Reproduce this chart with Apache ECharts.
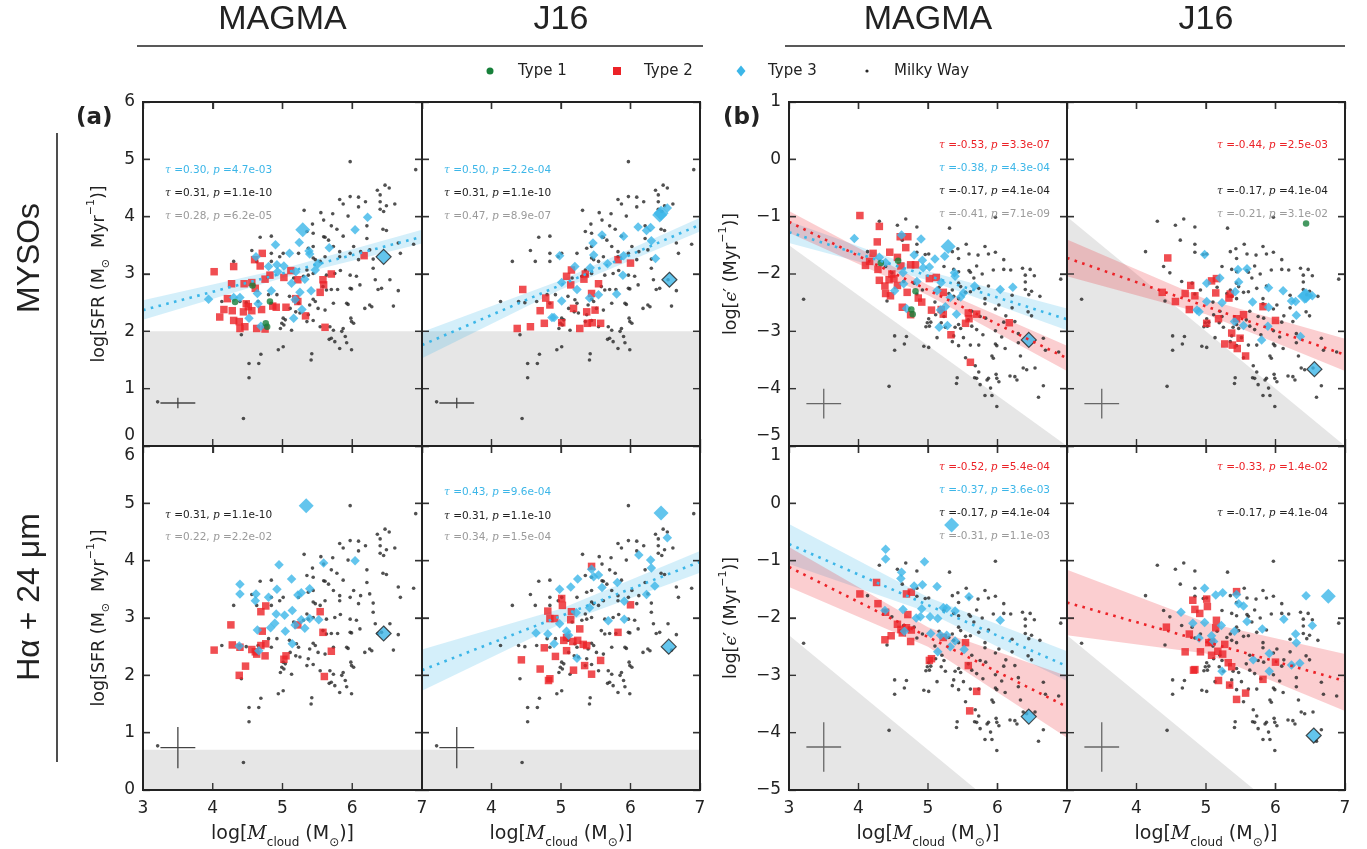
<!DOCTYPE html>
<html><head><meta charset="utf-8">
<script src="https://cdn.jsdelivr.net/npm/echarts@6/dist/echarts.min.js"></script>
<style>html,body{margin:0;padding:0;background:#fff}#c{width:1367px;height:849px}</style>
</head><body><div id="c"></div>
<script>
// ---------------- DATA ----------------
// Milky Way clouds: [log Mcloud, log SFR]
const milkyWay = [[5.97,4.96],[6.91,4.82],[6.47,4.55],[6.53,4.50],[6.36,4.46],[6.40,4.38],[5.82,4.30],[5.97,4.35],[6.09,4.34],[5.87,4.22],[6.19,4.26],[6.40,4.26],[6.49,4.19],[6.61,4.22],[6.09,4.17],[6.40,4.13],[6.45,4.09],[5.31,4.11],[5.55,4.07],[5.72,4.05],[5.94,4.01],[5.59,3.94],[5.70,3.84],[5.43,3.87],[6.21,3.84],[6.44,3.78],[6.49,3.76],[5.78,3.78],[5.87,3.66],[5.59,3.65],[5.44,3.71],[5.35,3.74],[4.68,3.64],[4.84,3.66],[6.02,3.48],[6.21,3.62],[5.66,3.59],[5.61,3.64],[6.88,3.52],[5.73,3.48],[5.82,3.39],[5.97,3.36],[6.12,3.39],[6.66,3.54],[6.25,3.42],[5.44,3.48],[5.37,3.45],[5.23,3.36],[5.01,3.36],[4.84,3.36],[4.96,3.30],[4.56,3.41],[5.61,3.30],[5.82,3.30],[6.30,3.26],[6.09,3.25],[5.44,3.28],[4.30,3.22],[4.63,3.22],[4.84,3.22],[5.47,3.25],[5.54,3.22],[5.83,3.06],[5.75,3.01],[5.35,3.07],[5.44,3.01],[5.37,2.98],[5.63,2.98],[5.30,2.96],[5.16,2.93],[5.97,2.98],[6.06,2.96],[6.30,3.10],[6.33,2.90],[6.54,2.90],[6.11,2.81],[6.42,2.75],[5.97,2.75],[5.99,2.74],[6.37,2.73],[6.66,2.71],[5.58,2.78],[5.63,2.72],[5.70,2.73],[5.79,2.73],[4.80,2.64],[4.92,2.64],[5.10,2.61],[5.20,2.55],[5.44,2.56],[5.23,2.49],[5.39,2.46],[5.47,2.52],[5.51,2.40],[5.61,2.37],[5.73,2.49],[5.92,2.49],[5.94,2.47],[6.25,2.46],[6.28,2.43],[6.18,2.40],[6.59,2.44],[4.13,2.52],[4.39,2.52],[4.48,2.50],[4.65,2.52],[4.84,2.49],[5.11,2.40],[5.19,2.34],[5.25,2.32],[5.37,2.29],[5.01,2.23],[5.04,2.20],[4.99,2.14],[5.02,2.11],[4.97,2.05],[5.13,2.02],[5.35,2.17],[5.44,2.19],[5.54,2.08],[5.68,2.08],[5.73,2.02],[5.87,2.05],[5.85,2.00],[5.98,2.23],[5.99,2.17],[6.02,2.14],[5.67,1.86],[5.70,1.88],[5.75,1.82],[5.82,1.70],[5.90,1.91],[5.92,1.80],[5.99,1.68],[4.41,1.94],[4.94,1.68],[5.01,1.73],[4.69,1.60],[4.52,1.44],[4.66,1.44],[5.42,1.61],[5.41,1.50],[4.52,1.19],[3.21,0.77],[4.44,0.48],[6.69,3.36]];

// MYSO-based SFR, MAGMA masses: [log Mcloud, log SFR]
const mysoMagmaT1 = [[4.32,2.51],[4.57,2.80],[4.82,2.52],[4.76,2.14],[4.78,2.08]];
const mysoMagmaT2 = [[4.02,3.04],[4.30,3.13],[4.71,3.36],[4.60,3.25],[4.68,3.14],[4.82,2.98],[4.75,2.91],[5.02,2.94],[5.12,3.06],[5.22,2.90],[5.70,3.00],[5.58,2.90],[5.59,2.81],[5.54,2.68],[4.27,2.83],[4.45,2.83],[4.56,2.85],[4.61,2.75],[4.21,2.57],[4.48,2.48],[4.51,2.43],[4.44,2.34],[4.56,2.36],[4.16,2.38],[4.28,2.36],[4.70,2.38],[4.86,2.44],[4.91,2.42],[5.05,2.42],[5.19,2.57],[5.22,2.52],[4.10,2.25],[4.30,2.19],[4.38,2.17],[4.46,2.08],[4.39,2.05],[4.63,2.05],[4.75,2.04],[5.33,2.27],[5.61,2.07],[6.17,3.32]];
const mysoMagmaT3 = [[3.94,2.56],[4.30,2.59],[4.39,2.59],[4.52,2.23],[4.64,2.66],[4.65,2.48],[4.69,2.09],[4.80,3.13],[4.84,2.71],[4.90,3.51],[4.92,3.16],[4.93,3.04],[5.02,3.14],[5.10,3.36],[5.13,2.84],[5.16,2.23],[5.18,2.55],[5.19,3.04],[5.24,3.55],[5.25,2.68],[5.28,2.38],[5.32,2.91],[5.38,3.40],[5.39,3.35],[5.41,2.71],[5.47,3.07],[5.51,3.18],[5.67,3.46],[6.04,3.77],[6.22,3.99],[4.62,3.30]];
const mysoMagmaT3Big = [[5.29,3.77]];
const mysoMagmaT3Out = [[6.45,3.30]];

// MYSO-based SFR, J16 masses
const mysoJ16T2 = [[4.37,2.05],[4.56,2.08],[4.45,2.73],[4.70,2.36],[4.76,2.14],[4.78,2.58],[4.84,2.46],[5.01,2.15],[5.08,2.96],[5.14,2.81],[5.15,3.07],[5.18,2.40],[5.27,2.05],[5.33,2.91],[5.35,3.00],[5.37,2.34],[5.38,2.14],[5.44,2.66],[5.45,2.15],[5.49,2.37],[5.54,2.83],[5.57,2.14],[5.82,3.25],[6.00,3.19]];
const mysoJ16T3 = [[4.87,2.24],[4.90,2.24],[4.98,3.32],[5.01,2.85],[5.01,2.53],[5.20,3.13],[5.23,2.73],[5.41,2.58],[5.42,3.11],[5.46,3.54],[5.47,3.33],[5.54,2.64],[5.59,3.68],[5.67,3.18],[5.80,2.65],[5.89,2.98],[5.90,3.32],[5.90,3.66],[6.11,3.82],[6.23,3.76],[6.29,3.81],[6.30,3.58],[6.36,3.27],[6.53,4.15]];
const mysoJ16T3Big = [[6.44,4.06],[6.42,4.03]];
const mysoJ16T3Out = [[6.56,2.90]];

// Halpha + 24um SFR, MAGMA masses
const haMagmaT2 = [[4.02,2.44],[4.26,2.88],[4.28,2.53],[4.39,2.49],[4.38,2.00],[4.47,2.16],[4.56,2.45],[4.61,2.41],[4.63,2.37],[4.69,2.52],[4.69,3.11],[4.71,2.77],[4.75,2.34],[4.76,2.55],[4.76,3.21],[5.02,2.28],[5.05,2.34],[5.22,2.88],[5.54,3.11],[5.58,2.75],[5.60,1.98],[5.70,2.42]];
const haMagmaT3 = [[4.39,3.59],[4.39,3.42],[4.38,2.51],[4.61,3.30],[4.62,3.42],[4.64,2.79],[4.66,2.43],[4.80,3.36],[4.83,2.83],[4.89,2.91],[4.91,3.07],[4.92,3.50],[4.95,3.93],[5.03,3.05],[5.04,2.77],[5.13,3.68],[5.14,3.13],[5.14,2.55],[5.18,2.88],[5.22,3.40],[5.27,3.44],[5.27,2.97],[5.32,2.82],[5.39,3.51],[5.39,2.99],[5.52,2.97],[5.59,3.96],[6.04,4.00]];
const haMagmaT3Big = [[5.34,4.96]];
const haMagmaT3Out = [[6.45,2.73]];

// Halpha + 24um SFR, J16 masses
const haJ16T2 = [[4.43,2.27],[4.70,2.11],[4.82,1.91],[4.84,1.94],[4.76,2.48],[4.81,3.12],[4.84,2.99],[4.91,2.99],[4.92,2.33],[5.01,3.34],[5.02,3.22],[5.04,2.61],[5.08,2.66],[5.08,2.43],[5.14,2.97],[5.15,3.11],[5.17,2.59],[5.18,2.09],[5.24,2.61],[5.27,2.81],[5.32,2.54],[5.34,2.17],[5.37,2.52],[5.44,3.90],[5.44,2.02],[5.57,2.26],[5.82,2.75],[6.00,3.23]];
const haJ16T3 = [[4.64,2.74],[4.81,2.72],[4.90,2.55],[4.98,3.50],[4.98,2.90],[5.08,2.77],[5.11,2.70],[5.14,3.54],[5.22,3.09],[5.23,2.30],[5.24,3.68],[5.41,3.18],[5.44,3.85],[5.47,3.72],[5.54,3.75],[5.59,3.53],[5.68,2.95],[5.81,3.62],[5.91,3.29],[5.91,2.98],[6.12,4.10],[6.23,3.41],[6.29,4.01],[6.30,3.87],[6.35,3.56],[6.53,4.40]];
const haJ16T3Big = [[6.44,4.83]];
const haJ16T3Out = [[6.55,2.50]];

// points only present in the epsilon panels: [log Mcloud, log eps']
const epsMysoJ16T1Extra = [[6.44,-1.12]];
const epsHaJ16T3BigExtra = [[6.76,-1.62]];

// observational limits (grey shading)
const limitSfrMyso = [[3,2],[7,2]];
const limitSfrHa = [[3,0.7],[7,0.7]];
const limitEpsMysoMagma = [[3,-1.5],[7,-5]];
const limitEpsMysoJ16 = [[3,-1],[7,-5]];
const limitEpsHa = [[3,-2.3],[5.7,-5],[7,-5]];

// fits: line [x,y], band [x, lower, upper]
const fitMysoMagmaT3Line = [[3,2.37],[7,3.65]];
const fitMysoMagmaT3Band = [[3,2.20,2.54],[5,2.93,3.09],[7,3.53,3.77]];
const fitMysoJ16T3Line = [[3,1.76],[7,3.86]];
const fitMysoJ16T3Band = [[3,1.53,1.99],[5,2.73,2.89],[7,3.74,3.98]];
const fitHaJ16T3Line = [[3,2.09],[7,3.98]];
const fitHaJ16T3Band = [[3,1.73,2.45],[5,2.90,3.16],[7,3.79,4.17]];
const fitEpsMysoMagmaT2Line = [[3,-1.09],[7,-3.47]];
const fitEpsMysoMagmaT2Band = [[3,-1.28,-0.90],[5,-2.37,-2.19],[7,-3.69,-3.25]];
const fitEpsMysoMagmaT3Line = [[3,-1.27],[7,-2.79]];
const fitEpsMysoMagmaT3Band = [[3,-1.46,-1.08],[5,-2.11,-1.95],[7,-2.98,-2.60]];
const fitEpsMysoJ16T2Line = [[3,-1.72],[7,-3.41]];
const fitEpsMysoJ16T2Band = [[3,-2.04,-1.40],[5,-2.70,-2.44],[7,-3.69,-3.13]];
const fitEpsHaMagmaT3Line = [[3,-0.71],[7,-2.84]];
const fitEpsHaMagmaT3Band = [[3,-1.06,-0.36],[5,-1.90,-1.64],[7,-3.10,-2.58]];
const fitEpsHaMagmaT2Line = [[3,-1.11],[7,-3.55]];
const fitEpsHaMagmaT2Band = [[3,-1.46,-0.76],[5,-2.50,-2.16],[7,-4.09,-3.01]];
const fitEpsHaJ16T2Line = [[3,-1.73],[7,-3.10]];
const fitEpsHaJ16T2Band = [[3,-2.30,-1.16],[5,-2.62,-2.08],[7,-3.62,-2.63]];

// typical error bars: [x, y, half-width x, half-width y]
const errSfrMyso = [3.5,0.75,0.25,0.09];
const errSfrHa = [3.5,0.74,0.25,0.36];
const errEpsMyso = [3.5,-4.26,0.25,0.26];
const errEpsHa = [3.5,-4.25,0.25,0.43];

// tick positions
const xTickValues = [4,5,6];
const sfrTickValues = [1,2,3,4,5];
const epsTickValues = [-4,-3,-2,-1,0];

// Kendall tau annotations: [tau, p, colour key]
const notesA1 = [['0.30','4.7e-03','blue'],['0.31','1.1e-10','black'],['0.28','6.2e-05','gray']];
const notesA2 = [['0.50','2.2e-04','blue'],['0.31','1.1e-10','black'],['0.47','8.9e-07','gray']];
const notesA3 = [['0.31','1.1e-10','black'],['0.22','2.2e-02','gray']];
const notesA4 = [['0.43','9.6e-04','blue'],['0.31','1.1e-10','black'],['0.34','1.5e-04','gray']];
const notesB1 = [['-0.53','3.3e-07','red'],['-0.38','4.3e-04','blue'],['-0.17','4.1e-04','black'],['-0.41','7.1e-09','gray']];
const notesB2 = [['-0.44','2.5e-03','red'],['-0.17','4.1e-04','black'],['-0.21','3.1e-02','gray']];
const notesB3 = [['-0.52','5.4e-04','red'],['-0.37','3.6e-03','blue'],['-0.17','4.1e-04','black'],['-0.31','1.1e-03','gray']];
const notesB4 = [['-0.33','1.4e-02','red'],['-0.17','4.1e-04','black']];

const headers = ['MAGMA','J16','MAGMA','J16'];
const legendLabels = ['Type 1','Type 2','Type 3','Milky Way'];
const rowLabels = ['MYSOs','H\u03b1 + 24 \u03bcm'];

// ---------------- helpers ----------------
// log eps' = log(SFR / Mcloud) : same clouds shown on the efficiency axis
const toEps = pts => pts.map(p => [p[0], Math.round((p[1] - p[0]) * 100) / 100]);

const COL = {blue:'#3cb6e8', red:'#ec2227', green:'#17803a', black:'#222222', gray:'#9a9a9a', mw:'#262626'};
const BAND = {blue:'rgba(60,182,232,0.22)', red:'rgba(236,34,39,0.22)'};
const FONT = 'DejaVu Sans';

const panels = [
  {rect:[143,102,279,344], row:0, col:0, eps:false, limit:limitSfrMyso, err:errSfrMyso, mw:milkyWay,
   t1:mysoMagmaT1, t2:mysoMagmaT2, t3:mysoMagmaT3, big:mysoMagmaT3Big, out:mysoMagmaT3Out,
   fits:[[fitMysoMagmaT3Line,fitMysoMagmaT3Band,'blue']], notes:notesA1, noteY:[68,91,114]},
  {rect:[422,102,278,344], row:0, col:1, eps:false, limit:limitSfrMyso, err:errSfrMyso, mw:milkyWay,
   t1:[], t2:mysoJ16T2, t3:mysoJ16T3, big:mysoJ16T3Big, out:mysoJ16T3Out,
   fits:[[fitMysoJ16T3Line,fitMysoJ16T3Band,'blue']], notes:notesA2, noteY:[68,91,114]},
  {rect:[143,446,279,344], row:1, col:0, eps:false, limit:limitSfrHa, err:errSfrHa, mw:milkyWay,
   t1:[], t2:haMagmaT2, t3:haMagmaT3, big:haMagmaT3Big, out:haMagmaT3Out,
   fits:[], notes:notesA3, noteY:[69,91]},
  {rect:[422,446,278,344], row:1, col:1, eps:false, limit:limitSfrHa, err:errSfrHa, mw:milkyWay,
   t1:[], t2:haJ16T2, t3:haJ16T3, big:haJ16T3Big, out:haJ16T3Out,
   fits:[[fitHaJ16T3Line,fitHaJ16T3Band,'blue']], notes:notesA4, noteY:[46,70,91]},
  {rect:[789,102,278,344], row:0, col:0, eps:true, limit:limitEpsMysoMagma, err:errEpsMyso, mw:toEps(milkyWay),
   t1:toEps(mysoMagmaT1), t2:toEps(mysoMagmaT2), t3:toEps(mysoMagmaT3), big:toEps(mysoMagmaT3Big), out:toEps(mysoMagmaT3Out),
   fits:[[fitEpsMysoMagmaT3Line,fitEpsMysoMagmaT3Band,'blue'],[fitEpsMysoMagmaT2Line,fitEpsMysoMagmaT2Band,'red']], notes:notesB1, noteY:[43,66,89,112]},
  {rect:[1067,102,278,344], row:0, col:1, eps:true, limit:limitEpsMysoJ16, err:errEpsMyso, mw:toEps(milkyWay),
   t1:epsMysoJ16T1Extra, t2:toEps(mysoJ16T2), t3:toEps(mysoJ16T3), big:toEps(mysoJ16T3Big), out:toEps(mysoJ16T3Out),
   fits:[[fitEpsMysoJ16T2Line,fitEpsMysoJ16T2Band,'red']], notes:notesB2, noteY:[43,89,112]},
  {rect:[789,446,278,344], row:1, col:0, eps:true, limit:limitEpsHa, err:errEpsHa, mw:toEps(milkyWay),
   t1:[], t2:toEps(haMagmaT2), t3:toEps(haMagmaT3), big:toEps(haMagmaT3Big), out:toEps(haMagmaT3Out),
   fits:[[fitEpsHaMagmaT3Line,fitEpsHaMagmaT3Band,'blue'],[fitEpsHaMagmaT2Line,fitEpsHaMagmaT2Band,'red']], notes:notesB3, noteY:[21,44,67,90]},
  {rect:[1067,446,278,344], row:1, col:1, eps:true, limit:limitEpsHa, err:errEpsHa, mw:toEps(milkyWay),
   t1:[], t2:toEps(haJ16T2), t3:toEps(haJ16T3.concat(haJ16T3Big)), big:epsHaJ16T3BigExtra, out:toEps(haJ16T3Out),
   fits:[[fitEpsHaJ16T2Line,fitEpsHaJ16T2Band,'red']], notes:notesB4, noteY:[21,67]}
];

const xNameRich = {
  n:{fontFamily:FONT, fontSize:19, color:'#222'},
  i:{fontFamily:'DejaVu Serif', fontStyle:'italic', fontSize:19, color:'#222'},
  sub:{fontFamily:FONT, fontSize:12, color:'#222', verticalAlign:'bottom', lineHeight:29}
};
const yNameRich = {
  n:{fontFamily:FONT, fontSize:17.5, color:'#222'},
  i:{fontFamily:'DejaVu Serif', fontStyle:'italic', fontSize:17.5, color:'#222'},
  sub:{fontFamily:FONT, fontSize:11, color:'#222', verticalAlign:'bottom', lineHeight:26},
  sup:{fontFamily:FONT, fontSize:11, color:'#222', verticalAlign:'top', lineHeight:26}
};
const xName = '{n|log[}{i|M}{sub|cloud}{n| (M}{sub|\u2299}{n|)]}';
const yNameSfr = '{n|log[SFR (M}{sub|\u2299}{n|  Myr}{sup|\u22121}{n|)]}';
const yNameEps = '{n|log[}{i|\u03f5}{n|\u2032 (Myr}{sup|\u22121}{n|)]}';

const grid = [], xAxis = [], yAxis = [], series = [], graphic = [];
const tickStyle = {show:true, inside:true, length:7, lineStyle:{color:'#333', width:1.3}};
const axLine = {show:true, onZero:false, lineStyle:{color:'#222', width:2}};
const TICK_LEN = 7;
const tickLine = {stroke:'#333', lineWidth:1.4};

panels.forEach((p, i) => {
  const [L, T, W, H] = p.rect;
  const bottom = p.row === 1, left = p.col === 0;
  const yMin = p.eps ? -5 : 0, yMax = p.eps ? 1 : 6;
  grid.push({left:L, top:T, width:W, height:H, show:false, containLabel:false, outerBoundsMode:'none'});
  xAxis.push({gridIndex:i, type:'value', min:3, max:7, interval:1, position:'bottom',
    axisLine:axLine, splitLine:{show:false}, axisTick:tickStyle,
    axisLabel:{show:bottom, showMinLabel:left, showMaxLabel:true, margin:10, fontFamily:FONT, fontSize:17, color:'#222', hideOverlap:false},
    name: bottom ? xName : '', nameLocation:'middle', nameGap:30,
    nameTextStyle:{rich:xNameRich}});
  xAxis.push({gridIndex:i, type:'value', min:3, max:7, interval:1, position:'top',
    axisLine:axLine, splitLine:{show:false}, axisTick:tickStyle, axisLabel:{show:false}});
  const fmt = v => {
    const s = (v < 0 ? '\u2212' : '') + Math.abs(v);
    if (!bottom && v === yMin) return '{lo|' + s + '}';
    if (bottom && v === yMax) return '{hi|' + s + '}';
    return '{n|' + s + '}';
  };
  const lab = {fontFamily:FONT, fontSize:17, color:'#222'};
  yAxis.push({gridIndex:i, type:'value', min:yMin, max:yMax, interval:1, position:'left',
    axisLine:axLine, splitLine:{show:false}, axisTick:tickStyle,
    axisLabel:{show:left, margin:8, formatter:fmt, hideOverlap:false,
      rich:{n:lab, lo:Object.assign({padding:[0,0,20,0]},lab), hi:Object.assign({padding:[20,0,0,0]},lab)}},
    name: left ? (p.eps ? yNameEps : yNameSfr) : '', nameLocation:'middle', nameRotate:90,
    nameGap: p.eps ? 45 : 31, nameTextStyle:{rich:yNameRich}});
  yAxis.push({gridIndex:i, type:'value', min:yMin, max:yMax, interval:1, position:'right',
    axisLine:axLine, splitLine:{show:false}, axisTick:tickStyle, axisLabel:{show:false}});

  const xi = 2 * i, yi = 2 * i;
  // grey limit region
  series.push({type:'line', xAxisIndex:xi, yAxisIndex:yi, data:p.limit, showSymbol:false, symbol:'none',
    lineStyle:{width:0}, areaStyle:{color:'#e6e6e6', opacity:1, origin:'start'}, z:1, silent:true});
  // confidence bands
  p.fits.forEach(f => {
    const band = f[1], c = BAND[f[2]];
    series.push({type:'custom', xAxisIndex:xi, yAxisIndex:yi, data:band, clip:true, silent:true, z:2,
      renderItem:(params, api) => {
        if (params.dataIndex !== 0) return null;
        const up = band.map(b => api.coord([b[0], b[2]]));
        const lo = band.map(b => api.coord([b[0], b[1]])).reverse();
        return {type:'polygon', shape:{points:up.concat(lo)}, style:{fill:c}};
      }});
  });
  // error cross
  series.push({type:'custom', xAxisIndex:xi, yAxisIndex:yi, data:[p.err], silent:true, z:3,
    renderItem:(params, api) => {
      const e = p.err;
      const a = api.coord([e[0]-e[2], e[1]]), b = api.coord([e[0]+e[2], e[1]]);
      const c = api.coord([e[0], e[1]-e[3]]), d = api.coord([e[0], e[1]+e[3]]);
      const st = {stroke: p.eps ? '#666' : '#444', lineWidth:1.3};
      return {type:'group', children:[
        {type:'line', shape:{x1:a[0],y1:a[1],x2:b[0],y2:b[1]}, style:st},
        {type:'line', shape:{x1:c[0],y1:c[1],x2:d[0],y2:d[1]}, style:st}]};
    }});
  // inward ticks on all four sides, placed through the axis scales
  series.push({type:'custom', xAxisIndex:xi, yAxisIndex:yi, data:xTickValues.map(v => [v, yMin]), silent:true, z:20, clip:false,
    renderItem:(params, api) => {
      const px = api.coord([api.value(0), yMin])[0];
      const yb = api.coord([3, yMin])[1], yt = api.coord([3, yMax])[1];
      return {type:'group', children:[
        {type:'line', shape:{x1:px, y1:yb, x2:px, y2:yb - TICK_LEN}, style:tickLine},
        {type:'line', shape:{x1:px, y1:yt, x2:px, y2:yt + TICK_LEN}, style:tickLine}]};
    }});
  series.push({type:'custom', xAxisIndex:xi, yAxisIndex:yi, data:(p.eps ? epsTickValues : sfrTickValues).map(v => [3, v]), silent:true, z:20, clip:false,
    renderItem:(params, api) => {
      const py = api.coord([3, api.value(1)])[1];
      const xl = api.coord([3, yMin])[0], xr = api.coord([7, yMin])[0];
      return {type:'group', children:[
        {type:'line', shape:{x1:xl, y1:py, x2:xl + TICK_LEN, y2:py}, style:tickLine},
        {type:'line', shape:{x1:xr, y1:py, x2:xr - TICK_LEN, y2:py}, style:tickLine}]};
    }});
  const sc = (data, symbol, size, color, z, extra) => Object.assign({type:'scatter', xAxisIndex:xi, yAxisIndex:yi,
    data, symbol, symbolSize:size, itemStyle:{color}, z, silent:true}, extra || {});
  series.push(sc(p.mw, 'circle', 3.6, COL.mw, 4, {name:'Milky Way'}));
  series.push(sc(p.t2, 'rect', 7.5, COL.red, 5, {name:'Type 2'}));
  series.push(sc(p.t3, 'diamond', 9.5, COL.blue, 6, {name:'Type 3'}));
  series.push(sc(p.big, 'diamond', 15, COL.blue, 6, {name:'Type 3'}));
  series.push(sc(p.out, 'diamond', 15, COL.blue, 6, {name:'Type 3', itemStyle:{color:COL.blue, borderColor:'#222', borderWidth:1.2}}));
  series.push(sc(p.t1, 'circle', 6.5, COL.green, 6, {name:'Type 1'}));
  // dotted fit lines
  p.fits.forEach(f => {
    series.push({type:'line', xAxisIndex:xi, yAxisIndex:yi, data:f[0], symbol:'none', silent:true, z:7,
      lineStyle:{color:COL[f[2]], width:2.6, type:[2.6,5.4], cap:'butt'}});
  });
  // frame
  graphic.push({type:'rect', shape:{x:L, y:T, width:W, height:H}, style:{fill:null, stroke:'#222', lineWidth:2}, z:100, silent:true});
  // tau annotations
  p.notes.forEach((n, k) => {
    const color = COL[n[2]];
    const style = {rich:{
      i:{fontFamily:'DejaVu Serif', fontStyle:'italic', fontSize:10.5, fill:color},
      n:{fontFamily:FONT, fontSize:10.5, fill:color}},
      text:'{i|\u03c4}{n| =' + n[0] + ', }{i|p}{n| =' + n[1] + '}',
      verticalAlign:'middle', align: p.eps ? 'right' : 'left'};
    graphic.push({type:'text', x: p.eps ? L + W - 17 : L + 22, y: T + p.noteY[k], style, z:90, silent:true});
  });
});

// headers
const headerCenters = [[143,422],[422,700],[789,1067],[1067,1345]];
headers.forEach((h, k) => {
  const c = (headerCenters[k][0] + headerCenters[k][1]) / 2;
  graphic.push({type:'text', x:c, y:20, style:{text:h, fontFamily:'Liberation Sans', fontSize:34, fill:'#222', align:'center', verticalAlign:'middle'}});
});
graphic.push({type:'line', shape:{x1:137, y1:46, x2:703, y2:46}, style:{stroke:'#222', lineWidth:1.6}});
graphic.push({type:'line', shape:{x1:785, y1:46, x2:1345, y2:46}, style:{stroke:'#222', lineWidth:1.6}});
// row labels
graphic.push({type:'line', shape:{x1:57, y1:133, x2:57, y2:762}, style:{stroke:'#222', lineWidth:1.6}});
graphic.push({type:'text', x:30, y:258, rotation:Math.PI/2, style:{text:rowLabels[0], fontFamily:'Liberation Sans', fontSize:32, fill:'#222', align:'center', verticalAlign:'middle'}});
graphic.push({type:'text', x:30, y:597, rotation:Math.PI/2, style:{text:rowLabels[1], fontFamily:'Liberation Sans', fontSize:32, fill:'#222', align:'center', verticalAlign:'middle'}});
// panel letters
graphic.push({type:'text', x:76, y:118, style:{text:'(a)', fontFamily:FONT, fontWeight:'bold', fontSize:23, fill:'#222', verticalAlign:'middle'}});
graphic.push({type:'text', x:723, y:118, style:{text:'(b)', fontFamily:FONT, fontWeight:'bold', fontSize:23, fill:'#222', verticalAlign:'middle'}});
// legend
const legY = 71;
graphic.push({type:'circle', shape:{cx:490, cy:legY, r:3.5}, style:{fill:COL.green}});
graphic.push({type:'rect', shape:{x:613, y:legY-4, width:8, height:8}, style:{fill:COL.red}});
graphic.push({type:'polygon', shape:{points:[[741,legY-5.5],[745.5,legY],[741,legY+5.5],[736.5,legY]]}, style:{fill:COL.blue}});
graphic.push({type:'circle', shape:{cx:867, cy:legY, r:1.6}, style:{fill:COL.mw}});
[[518,0],[644,1],[768,2],[894,3]].forEach(([x, k]) => {
  graphic.push({type:'text', x, y:legY, style:{text:legendLabels[k], fontFamily:FONT, fontSize:15, fill:'#222', verticalAlign:'middle'}});
});

const chart = echarts.init(document.getElementById('c'), null, {renderer:'canvas'});
chart.setOption({animation:false, backgroundColor:'#fff', textStyle:{fontFamily:FONT},
  grid, xAxis, yAxis, series, graphic});
</script>
</body></html>
